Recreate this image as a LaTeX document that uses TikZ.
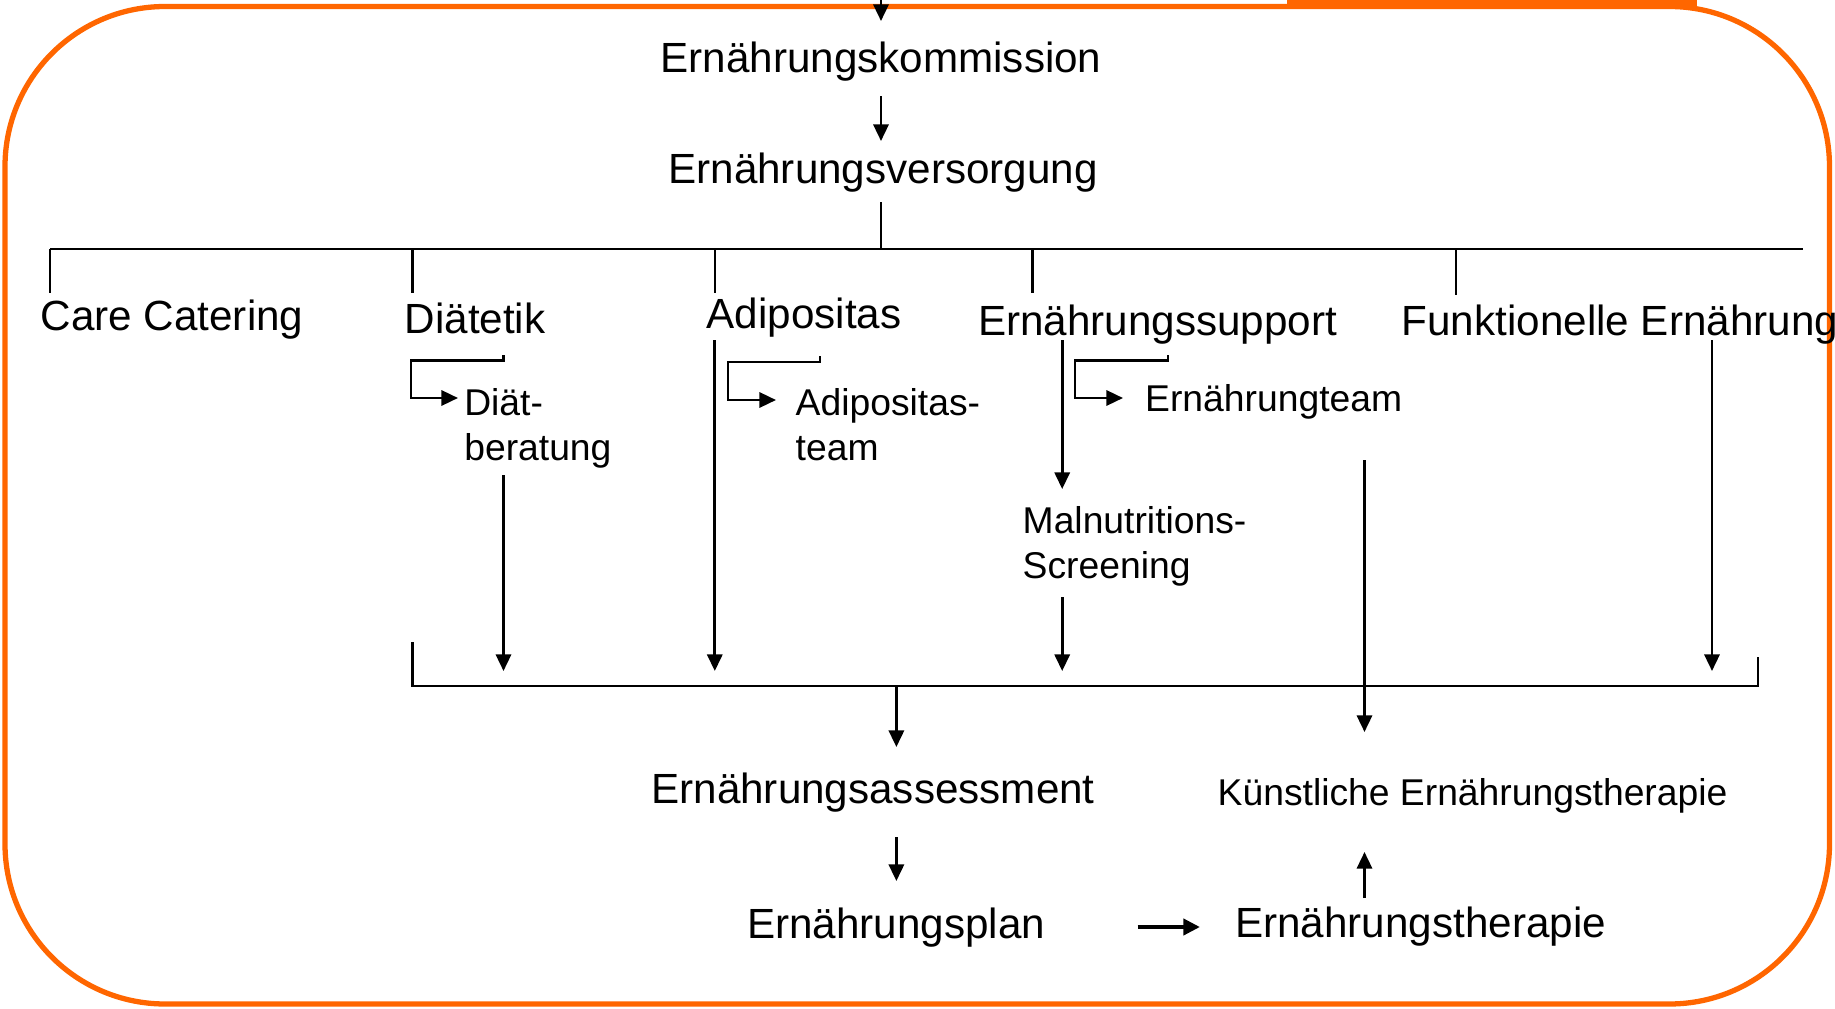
\documentclass[tikz,border=0pt]{standalone}
\usepackage{fontspec}
\setmainfont{Liberation Sans}
\usetikzlibrary{arrows.meta}
\definecolor{frameorange}{RGB}{255,102,0}
\begin{document}
\begin{tikzpicture}[x=0.01cm,y=-0.01cm,
  line/.style={line width=0.7pt},
  arr/.style={line width=0.75pt,-{Triangle[length=4.7pt,width=4.3pt]}},
  bigtxt/.style={font=\fontsize{12}{14}\selectfont, inner sep=0pt},
  smalltxt/.style={font=\fontsize{10.6}{12.8}\selectfont, inner sep=0pt},
]
\useasboundingbox (0,0) rectangle (1835,1009);
% frame
\draw[frameorange, line width=1.5pt, rounded corners=1.6cm] (5,6.5) rectangle (1829.5,1004);
\fill[frameorange] (1287,0) rectangle (1697,8);

% text nodes
\node[bigtxt, anchor=base] (kom) at (881,72.7) {Ernährungskommission};
\node[bigtxt, anchor=base] (ver) at (883,183) {Ernährungsversorgung};
\node[bigtxt, anchor=base west] (cc) at (40,330) {Care Catering};
\node[bigtxt, anchor=base west] (dia) at (404,333) {Diätetik};
\node[bigtxt, anchor=base west] (adi) at (706,328) {Adipositas};
\node[bigtxt, anchor=base west] (sup) at (977.5,335) {Ernährungssupport};
\node[bigtxt, anchor=base west] (fun) at (1401,335) {Funktionelle Ernährung};
\node[smalltxt, anchor=base west] (diab) at (463.6,415) {\begin{tabular}[t]{@{}l@{}}Diät-\\beratung\end{tabular}};
\node[smalltxt, anchor=base west] (adit) at (795,415) {\begin{tabular}[t]{@{}l@{}}Adipositas-\\team\end{tabular}};
\node[smalltxt, anchor=base west] (team) at (1144.5,411.7) {Ernährungteam};
\node[smalltxt, anchor=base west] (mal) at (1022,533) {\begin{tabular}[t]{@{}l@{}}Malnutritions-\\Screening\end{tabular}};
\node[bigtxt, anchor=base west] (ass) at (650.7,803) {Ernährungsassessment};
\node[smalltxt, anchor=base west] (kue) at (1217,805) {Künstliche Ernährungstherapie};
\node[bigtxt, anchor=base west] (plan) at (746.6,938) {Ernährungsplan};
\node[bigtxt, anchor=base west] (ther) at (1234.6,937) {Ernährungstherapie};

% coordinates
\coordinate (t0) at (881,0);
\coordinate (t1) at (881,21);
\coordinate (k1) at (881,96);
\coordinate (k2) at (881,141);
\coordinate (v1) at (881,202);
\coordinate (v2) at (881,249);
\coordinate (hl) at (50,249);
\coordinate (hr) at (1803,249);
\coordinate (ccT) at (50,293);
\coordinate (diaH) at (412.6,249);
\coordinate (diaT) at (412.6,293);
\coordinate (adiH) at (714.8,249);
\coordinate (adiT) at (714.8,293);
\coordinate (supH) at (1032.4,249);
\coordinate (supT) at (1032.4,293);
\coordinate (funH) at (1455.8,249);
\coordinate (funT) at (1455.8,295);
% Diaetetik bracket
\coordinate (db0) at (503.5,355);
\coordinate (db1) at (503.5,360.5);
\coordinate (db2) at (411,360.5);
\coordinate (db3) at (411,398);
\coordinate (db4) at (458,398);
% Adipositas bracket
\coordinate (ab0) at (820,356);
\coordinate (ab1) at (820,362);
\coordinate (ab2) at (728,362);
\coordinate (ab3) at (728,400);
\coordinate (ab4) at (776,400);
% Support bracket
\coordinate (sb0) at (1168,355);
\coordinate (sb1) at (1168,360.5);
\coordinate (sb2) at (1075,360.5);
\coordinate (sb3) at (1075,398);
\coordinate (sb4) at (1123,398);
% verticals
\coordinate (da0) at (503.5,475);
\coordinate (da1) at (503.5,671);
\coordinate (aa0) at (714.8,340);
\coordinate (aa1) at (714.8,671);
\coordinate (sa0) at (1062.2,340);
\coordinate (sa1) at (1062.2,489);
\coordinate (ma0) at (1062.2,597);
\coordinate (ma1) at (1062.2,671);
\coordinate (ta0) at (1364.5,460);
\coordinate (ta1) at (1364.5,732);
\coordinate (fa0) at (1712,340);
\coordinate (fa1) at (1712,671);
% bottom bracket
\coordinate (bl0) at (412.6,642);
\coordinate (bl1) at (412.6,686);
\coordinate (br1) at (1758,686);
\coordinate (br0) at (1758,657);
\coordinate (as0) at (896.4,686);
\coordinate (as1) at (896.4,747);
\coordinate (pl0) at (896.4,837);
\coordinate (pl1) at (896.4,881);
\coordinate (pt0) at (1137.5,927);
\coordinate (pt1) at (1200,927);
\coordinate (th0) at (1364.5,898);
\coordinate (th1) at (1364.5,852);

% connectors
\draw[arr] (t0) -- (t1);
\draw[arr] (k1) -- (k2);
\draw[line] (v1) -- (v2);
\draw[line] (hl) -- (hr);
\draw[line] (hl) -- (ccT);
\draw[line] (diaH) -- (diaT);
\draw[line] (adiH) -- (adiT);
\draw[line] (supH) -- (supT);
\draw[line] (funH) -- (funT);
\draw[arr] (db0) -- (db1) -- (db2) -- (db3) -- (db4);
\draw[arr] (ab0) -- (ab1) -- (ab2) -- (ab3) -- (ab4);
\draw[arr] (sb0) -- (sb1) -- (sb2) -- (sb3) -- (sb4);
\draw[arr] (da0) -- (da1);
\draw[arr] (aa0) -- (aa1);
\draw[arr] (sa0) -- (sa1);
\draw[arr] (ma0) -- (ma1);
\draw[arr] (ta0) -- (ta1);
\draw[arr] (fa0) -- (fa1);
\draw[line] (bl0) -- (bl1) -- (br1) -- (br0);
\draw[arr] (as0) -- (as1);
\draw[arr] (pl0) -- (pl1);
\draw[line width=1.2pt,-{Triangle[length=4.7pt,width=4.5pt]}] (pt0) -- (pt1);
\draw[arr] (th0) -- (th1);
\end{tikzpicture}
\end{document}
